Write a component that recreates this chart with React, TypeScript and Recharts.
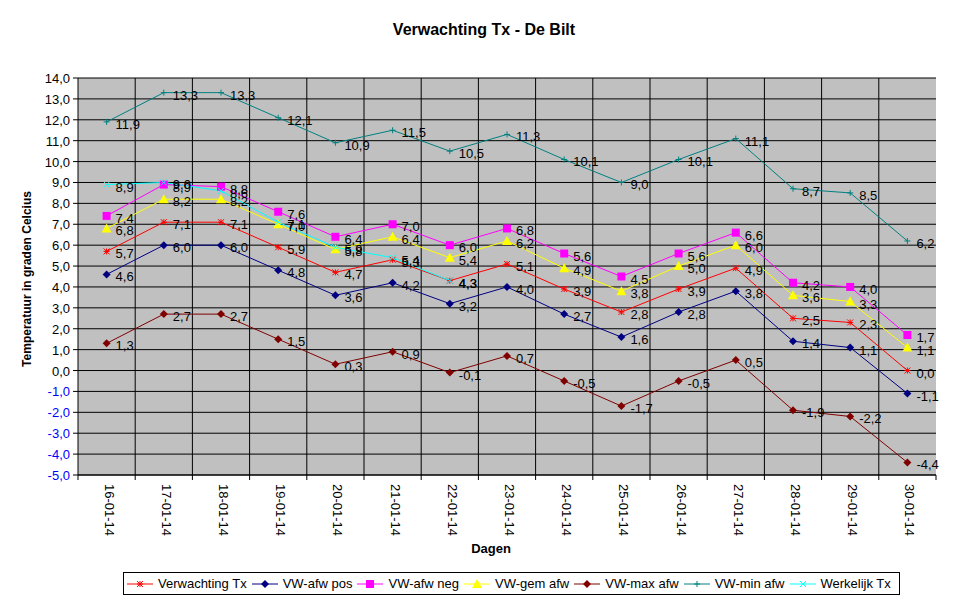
import React from "react";
import {
  CartesianGrid,
  LabelList,
  Line,
  LineChart,
  XAxis,
  YAxis,
  Label,
} from "recharts";

const days = [
  "16-01-14", "17-01-14", "18-01-14", "19-01-14", "20-01-14",
  "21-01-14", "22-01-14", "23-01-14", "24-01-14", "25-01-14",
  "26-01-14", "27-01-14", "28-01-14", "29-01-14", "30-01-14",
];
const verwachtingTx = [5.7, 7.1, 7.1, 5.9, 4.7, 5.3, 4.3, 5.1, 3.9, 2.8, 3.9, 4.9, 2.5, 2.3, 0.0];
const afwPos = [4.6, 6.0, 6.0, 4.8, 3.6, 4.2, 3.2, 4.0, 2.7, 1.6, 2.8, 3.8, 1.4, 1.1, -1.1];
const afwNeg = [7.4, 8.9, 8.8, 7.6, 6.4, 7.0, 6.0, 6.8, 5.6, 4.5, 5.6, 6.6, 4.2, 4.0, 1.7];
const gemAfw = [6.8, 8.2, 8.2, 7.0, 5.8, 6.4, 5.4, 6.2, 4.9, 3.8, 5.0, 6.0, 3.6, 3.3, 1.1];
const maxAfw = [1.3, 2.7, 2.7, 1.5, 0.3, 0.9, -0.1, 0.7, -0.5, -1.7, -0.5, 0.5, -1.9, -2.2, -4.4];
const minAfw = [11.9, 13.3, 13.3, 12.1, 10.9, 11.5, 10.5, 11.3, 10.1, 9.0, 10.1, 11.1, 8.7, 8.5, 6.2];
const werkelijkTx = [8.9, 9.0, 8.6, 7.1, 5.9, 5.4, 4.3, null, null, null, null, null, null, null, null];
const yTicks = [-5, -4, -3, -2, -1, 0, 1, 2, 3, 4, 5, 6, 7, 8, 9, 10, 11, 12, 13, 14];

const data = days.map((day, i) => ({
  day,
  verwachting: verwachtingTx[i],
  pos: afwPos[i],
  neg: afwNeg[i],
  gem: gemAfw[i],
  max: maxAfw[i],
  min: minAfw[i],
  werkelijk: werkelijkTx[i],
}));

const FONT = "'Liberation Sans', Arial, sans-serif";
const W = 968;
const H = 602;
const M = { top: 78, right: 32, bottom: 57, left: 0 };
const Y_W = 78;
const X_H = 70;
const PLOT_W = W - M.left - M.right - Y_W;
const BAND = PLOT_W / days.length;

type Shape = "star" | "diamond" | "square" | "triangle" | "plus" | "cross";

const fmt = (v: number) => v.toFixed(1).replace(".", ",");

function Marker({ shape, color, cx, cy }: { shape: Shape; color: string; cx: number; cy: number }) {
  switch (shape) {
    case "star":
      return (
        <g stroke={color} strokeWidth={1}>
          <line x1={cx - 3} y1={cy} x2={cx + 3} y2={cy} />
          <line x1={cx} y1={cy - 3} x2={cx} y2={cy + 3} />
          <line x1={cx - 3} y1={cy - 3} x2={cx + 3} y2={cy + 3} />
          <line x1={cx - 3} y1={cy + 3} x2={cx + 3} y2={cy - 3} />
        </g>
      );
    case "diamond":
      return <path d={`M${cx},${cy - 4}L${cx + 4},${cy}L${cx},${cy + 4}L${cx - 4},${cy}Z`} fill={color} />;
    case "square":
      return <rect x={cx - 4} y={cy - 4} width={8} height={8} fill={color} />;
    case "triangle":
      return <path d={`M${cx},${cy - 5}L${cx + 5},${cy + 4}L${cx - 5},${cy + 4}Z`} fill={color} />;
    case "plus":
      return (
        <g stroke={color} strokeWidth={1}>
          <line x1={cx - 3} y1={cy} x2={cx + 3} y2={cy} />
          <line x1={cx} y1={cy - 3} x2={cx} y2={cy + 3} />
        </g>
      );
    default:
      return (
        <g stroke={color} strokeWidth={1}>
          <line x1={cx - 3} y1={cy - 3} x2={cx + 3} y2={cy + 3} />
          <line x1={cx - 3} y1={cy + 3} x2={cx + 3} y2={cy - 3} />
        </g>
      );
  }
}

const makeDot = (shape: Shape, color: string) => (props: any) => {
  const { cx, cy, index, value } = props;
  if (cx == null || cy == null || value == null) return <g key={index} />;
  return (
    <g key={index}>
      <Marker shape={shape} color={color} cx={cx} cy={cy} />
    </g>
  );
};

const renderLabel = (props: any) => {
  const { x, y, value, index } = props;
  if (value == null || x == null) return null;
  return (
    <text key={index} x={x + 9} y={y + 7} fontSize={13} fill="#000" fontFamily={FONT}>
      {fmt(Number(value))}
    </text>
  );
};

const series: { key: string; name: string; color: string; shape: Shape }[] = [
  { key: "verwachting", name: "Verwachting Tx", color: "#FF0000", shape: "star" },
  { key: "pos", name: "VW-afw pos", color: "#000080", shape: "diamond" },
  { key: "neg", name: "VW-afw neg", color: "#FF00FF", shape: "square" },
  { key: "gem", name: "VW-gem afw", color: "#FFFF00", shape: "triangle" },
  { key: "max", name: "VW-max afw", color: "#800000", shape: "diamond" },
  { key: "min", name: "VW-min afw", color: "#008080", shape: "plus" },
  { key: "werkelijk", name: "Werkelijk Tx", color: "#00FFFF", shape: "cross" },
];

const XTick = (props: any) => {
  const { x, y, payload, index } = props;
  const last = index === days.length - 1;
  return (
    <g>
      <line x1={x - BAND / 2} y1={y} x2={x - BAND / 2} y2={y + 5} stroke="#000" />
      {last && <line x1={x + BAND / 2} y1={y} x2={x + BAND / 2} y2={y + 5} stroke="#000" />}
      <text
        transform={`translate(${x - 2},${y + 9}) rotate(90)`}
        fontSize={13}
        fontFamily={FONT}
        fill="#000"
        textAnchor="start"
      >
        {payload.value}
      </text>
    </g>
  );
};

const YTick = (props: any) => {
  const { x, y, payload } = props;
  return (
    <text x={x} y={y + 5} textAnchor="end" fontSize={13} fontFamily={FONT} fill={payload.value < 0 ? "#0000FF" : "#000"}>
      {fmt(payload.value)}
    </text>
  );
};

function LegendBox() {
  return (
    <div
      style={{
        position: "absolute",
        left: 123,
        top: 572,
        width: 772,
        height: 21,
        border: "1px solid #000",
        display: "flex",
        alignItems: "center",
        fontFamily: FONT,
        fontSize: 13,
        paddingLeft: 3,
        boxSizing: "content-box",
        whiteSpace: "nowrap",
      }}
    >
      {series.map((s) => (
        <div key={s.key} style={{ display: "flex", alignItems: "center", marginRight: 5 }}>
          <svg width={26} height={12}>
            <line x1={0} y1={6} x2={26} y2={6} stroke={s.color} />
            <Marker shape={s.shape} color={s.color} cx={13} cy={6} />
          </svg>
          <span style={{ marginLeft: 5 }}>{s.name}</span>
        </div>
      ))}
    </div>
  );
}

export default function App() {
  return (
    <div style={{ position: "relative", width: W, height: H, background: "#fff", fontFamily: FONT }}>
      <style>{`body{margin:0}`}</style>
      <div
        style={{
          position: "absolute",
          top: 21,
          left: 0,
          width: W,
          textAlign: "center",
          fontWeight: "bold",
          fontSize: 16,
        }}
      >
        Verwachting Tx - De Bilt
      </div>
      <LineChart width={W} height={H} data={data} margin={M}>
        <CartesianGrid
          fill="#C0C0C0"
          stroke="#000"
          strokeOpacity={1}
          verticalCoordinatesGenerator={({ offset }: any) =>
            days.slice(1).map((_, i) => offset.left + (i + 1) * (offset.width / days.length))
          }
        />
        <XAxis
          dataKey="day"
          height={X_H}
          tickLine={false}
          tickSize={0}
          tickMargin={0}
          padding={{ left: BAND / 2, right: BAND / 2 }}
          axisLine={{ stroke: "#000" }}
          tick={<XTick />}
          interval={0}
        >
          <Label
            content={() => (
              <text x={491} y={553} textAnchor="middle" fontWeight="bold" fontSize={13} fontFamily={FONT}>
                Dagen
              </text>
            )}
          />
        </XAxis>
        <YAxis
          width={Y_W}
          domain={[-5, 14]}
          ticks={yTicks}
          interval={0}
          tickSize={5}
          tickMargin={3}
          tickLine={{ stroke: "#000" }}
          axisLine={{ stroke: "#000" }}
          tick={<YTick />}
        >
          <Label
            content={() => (
              <text
                transform="translate(31,279) rotate(-90)"
                textAnchor="middle"
                fontWeight="bold"
                fontSize={12}
                fontFamily={FONT}
              >
                Temperatuur in graden Celcius
              </text>
            )}
          />
        </YAxis>
        {series.map((s) => (
          <Line
            key={s.key}
            dataKey={s.key}
            name={s.name}
            stroke={s.color}
            strokeWidth={1}
            type="linear"
            dot={makeDot(s.shape, s.color)}
            activeDot={false}
            connectNulls={false}
            isAnimationActive={false}
          >
            <LabelList dataKey={s.key} content={renderLabel} />
          </Line>
        ))}
      </LineChart>
      <LegendBox />
    </div>
  );
}
